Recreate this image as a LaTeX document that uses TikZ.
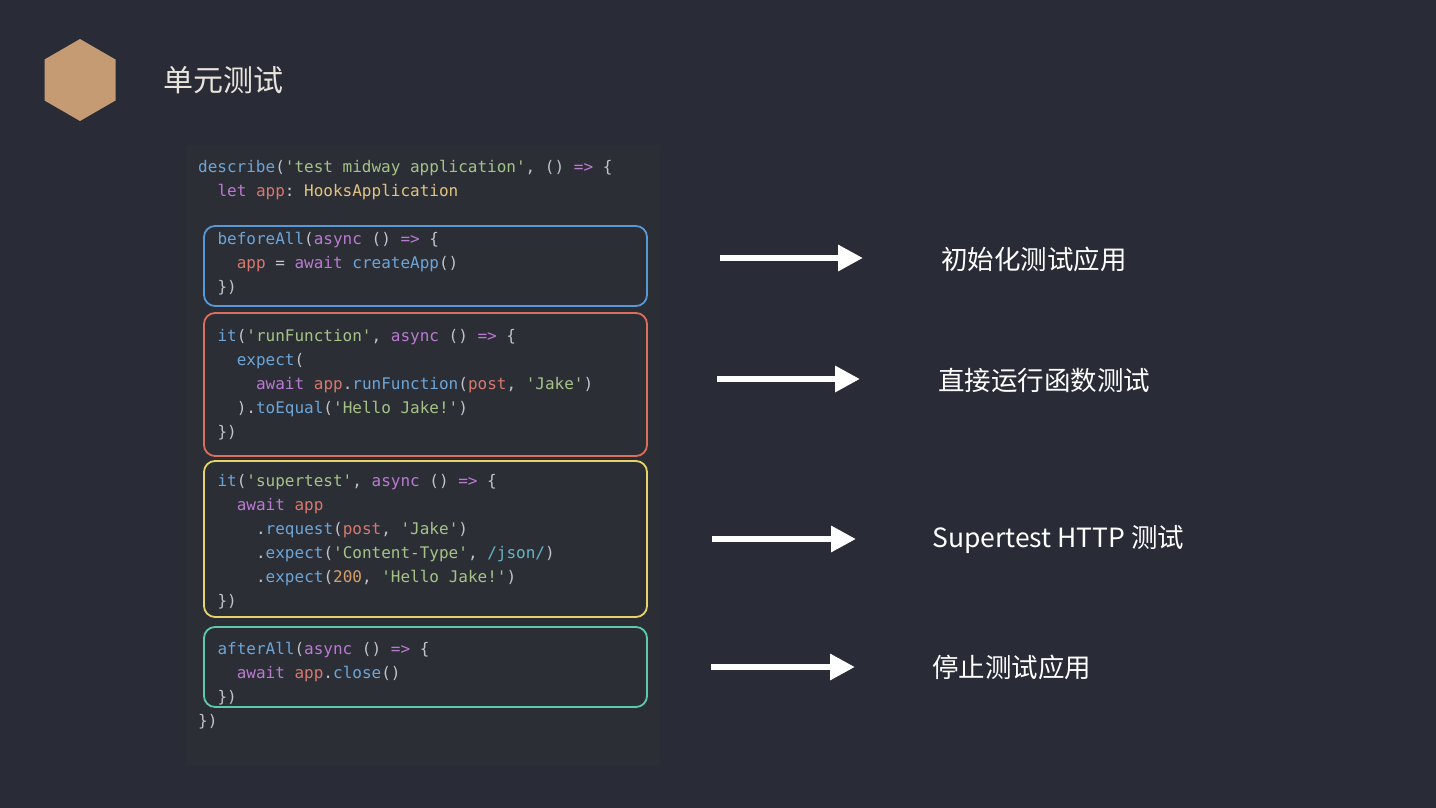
\documentclass[tikz,border=0pt]{standalone}
\usepackage{fontspec}
\setmonofont{DejaVu Sans Mono}
\newfontfamily\cjk{Noto Sans CJK SC}
\usetikzlibrary{arrows.meta}
\definecolor{bgcol}{RGB}{41,43,54}
\definecolor{panelcol}{RGB}{44,46,54}
\definecolor{hexcol}{RGB}{196,155,115}
\definecolor{titlecol}{RGB}{232,228,220}
\definecolor{kblue}{RGB}{108,165,216}
\definecolor{kgreen}{RGB}{165,195,135}
\definecolor{kpurple}{RGB}{186,122,210}
\definecolor{kred}{RGB}{216,120,110}
\definecolor{kyellow}{RGB}{226,196,126}
\definecolor{korange}{RGB}{214,160,106}
\definecolor{kwhite}{RGB}{192,196,202}
\definecolor{kcyan}{RGB}{100,182,196}
\definecolor{boxblue}{RGB}{88,152,214}
\definecolor{boxred}{RGB}{218,110,95}
\definecolor{boxyellow}{RGB}{228,212,106}
\definecolor{boxteal}{RGB}{95,200,176}
\newcommand\cdB[1]{\textcolor{kblue}{#1}}
\newcommand\cdG[1]{\textcolor{kgreen}{#1}}
\newcommand\cdP[1]{\textcolor{kpurple}{#1}}
\newcommand\cdR[1]{\textcolor{kred}{#1}}
\newcommand\cdY[1]{\textcolor{kyellow}{#1}}
\newcommand\cdO[1]{\textcolor{korange}{#1}}
\newcommand\cdW[1]{\textcolor{kwhite}{#1}}
\newcommand\cdC[1]{\textcolor{kcyan}{#1}}
\tikzset{
  codeline/.style={anchor=base west, inner sep=0pt, font=\ttfamily\fontsize{16pt}{19pt}\selectfont, text=kwhite},
  codebox/.style={draw, line width=1.8pt, rounded corners=11pt, inner sep=0pt, minimum width=443pt},
  label/.style={anchor=west, inner sep=0pt, text=white, font=\cjk\fontsize{26.5pt}{31pt}\selectfont},
  bigarrow/.style={draw=white, line width=6.5pt, -{Triangle[length=25pt,width=25pt]}}
}
\begin{document}
\begin{tikzpicture}[x=1pt,y=-1pt]
\useasboundingbox (0,0) rectangle (1436,808);
\fill[bgcol] (0,0) rectangle (1436,808);
% hexagon
\fill[hexcol] (80,39) -- (115.5,59.5) -- (115.5,100.5) -- (80,121) -- (44.5,100.5) -- (44.5,59.5) -- cycle;
\node[anchor=west, inner sep=0pt, text=titlecol, font=\cjk\fontsize{30pt}{35pt}\selectfont] (title) at (163,80) {单元测试};
% code panel
\fill[panelcol] (186,145) rectangle (660,765);
% boxes
\node[codebox, draw=boxblue, minimum height=80pt] (b1) at (425.5,266) {};
\node[codebox, draw=boxred, minimum height=143pt] (b2) at (425.5,384.5) {};
\node[codebox, draw=boxyellow, minimum height=156pt] (b3) at (425.5,539) {};
\node[codebox, draw=boxteal, minimum height=80pt] (b4) at (425.5,667) {};
% code lines
\def\cw{9.65}
\node[codeline] (l1) at (198,172) {\cdB{describe}(\cdG{'test midway application'}, () \cdP{=>} \{};
\node[codeline] (l2) at (198+2*\cw,196) {\cdP{let} \cdR{app}: \cdY{HooksApplication}};
\node[codeline] (l3) at (198+2*\cw,244) {\cdB{beforeAll}(\cdP{async} () \cdP{=>} \{};
\node[codeline] (l4) at (198+4*\cw,268) {\cdR{app} = \cdP{await} \cdB{createApp}()};
\node[codeline] (l5) at (198+2*\cw,292) {\})};
\node[codeline] (l6) at (198+2*\cw,341) {\cdB{it}(\cdG{'runFunction'}, \cdP{async} () \cdP{=>} \{};
\node[codeline] (l7) at (198+4*\cw,365) {\cdB{expect}(};
\node[codeline] (l8) at (198+6*\cw,389) {\cdP{await} \cdR{app}.\cdB{runFunction}(\cdR{post}, \cdG{'Jake'})};
\node[codeline] (l9) at (198+4*\cw,413) {).\cdB{toEqual}(\cdG{'Hello Jake!'})};
\node[codeline] (l10) at (198+2*\cw,437) {\})};
\node[codeline] (l11) at (198+2*\cw,486) {\cdB{it}(\cdG{'supertest'}, \cdP{async} () \cdP{=>} \{};
\node[codeline] (l12) at (198+4*\cw,510) {\cdP{await} \cdR{app}};
\node[codeline] (l13) at (198+6*\cw,534) {.\cdB{request}(\cdR{post}, \cdG{'Jake'})};
\node[codeline] (l14) at (198+6*\cw,558) {.\cdB{expect}(\cdG{'Content-Type'}, \cdC{/json/})};
\node[codeline] (l15) at (198+6*\cw,582) {.\cdB{expect}(\cdO{200}, \cdG{'Hello Jake!'})};
\node[codeline] (l16) at (198+2*\cw,606) {\})};
\node[codeline] (l17) at (198+2*\cw,654) {\cdB{afterAll}(\cdP{async} () \cdP{=>} \{};
\node[codeline] (l18) at (198+4*\cw,678) {\cdP{await} \cdR{app}.\cdB{close}()};
\node[codeline] (l19) at (198+2*\cw,702) {\})};
\node[codeline] (l20) at (198,726) {\})};
% labels
\node[label] (t1) at (941,259) {初始化测试应用};
\node[label] (t2) at (938,380) {直接运行函数测试};
\node[label] (t3) at (932,539) {Supertest HTTP 测试};
\node[label] (t4) at (932,667) {停止测试应用};
% arrows
\coordinate (a1s) at (720,258); \coordinate (a1e) at (863,258);
\coordinate (a2s) at (717,379); \coordinate (a2e) at (860,379);
\coordinate (a3s) at (712,539); \coordinate (a3e) at (856,539);
\coordinate (a4s) at (711,667); \coordinate (a4e) at (855,667);
\draw[bigarrow] (a1s) -- (a1e);
\draw[bigarrow] (a2s) -- (a2e);
\draw[bigarrow] (a3s) -- (a3e);
\draw[bigarrow] (a4s) -- (a4e);
\end{tikzpicture}
\end{document}
